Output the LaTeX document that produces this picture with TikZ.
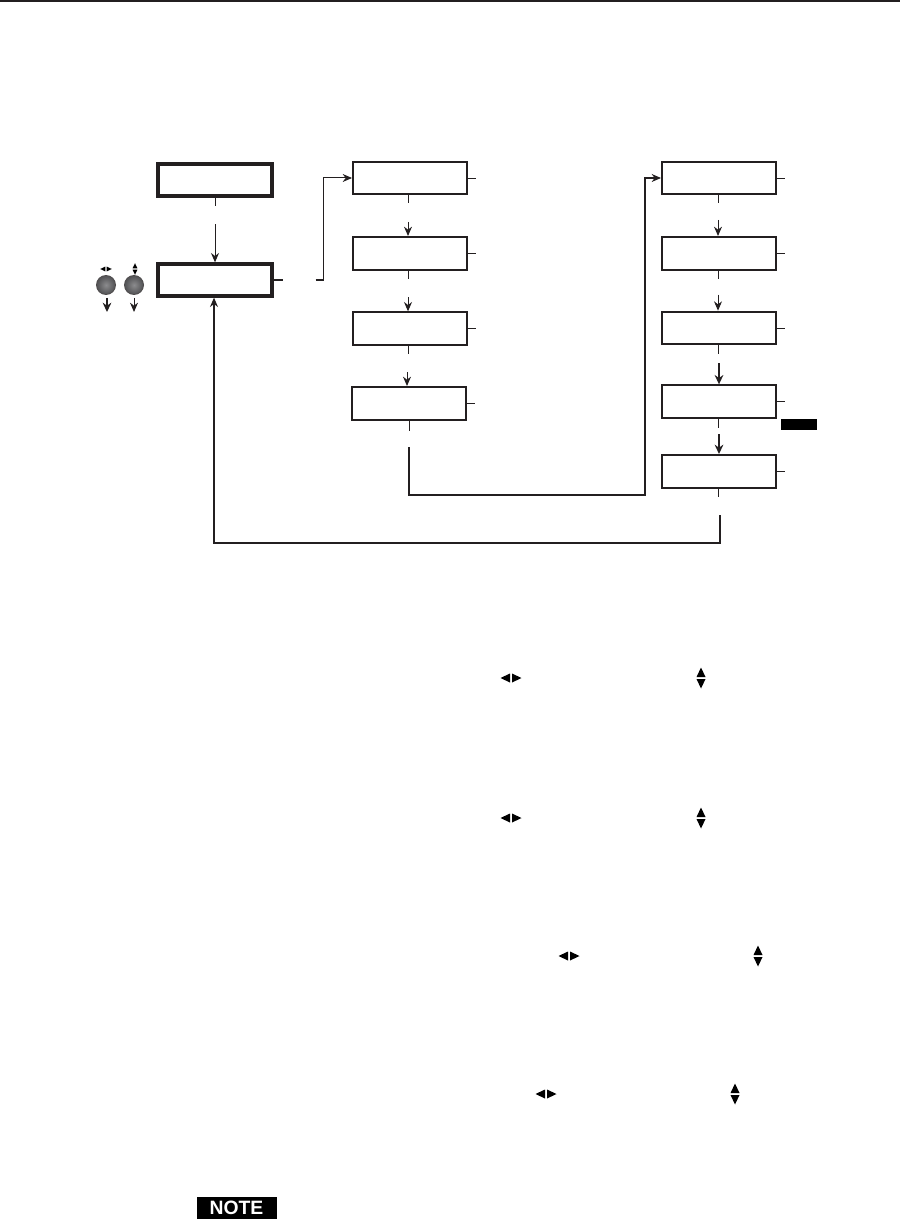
\documentclass[tikz,border=0pt]{standalone}
\usepackage{fontspec}
\setmainfont{Liberation Sans}
\usetikzlibrary{arrows.meta, positioning, calc}
\definecolor{inkDark}{HTML}{231F20}
\definecolor{knobGray}{HTML}{77777A}
\tikzset{
  x=0.75pt, y=-0.75pt,
  arrowK/.style={-{Stealth[length=7pt, width=6pt]}, inkDark, line width=0.75pt},
  arrowL/.style={-{Stealth[length=7pt, width=6pt]}, inkDark, line width=0.95pt},
  arrowT/.style={-{Stealth[length=7pt, width=6.5pt]}, inkDark, line width=1.2pt},
  stub/.style={inkDark, line width=0.7pt},
  stubT/.style={inkDark, line width=1.2pt},
  boxMain/.style={rectangle, draw=inkDark, line width=2.5pt, minimum width=85.5pt, minimum height=24pt},
  boxMenu/.style={rectangle, draw=inkDark, line width=1.5pt, minimum width=85.5pt, minimum height=24.5pt},
  knob/.style={circle, fill=inkDark!80, inner sep=0pt, minimum size=15pt},
  tagK/.style={rectangle, fill=black, inner sep=0pt},
  pics/lrmark/.style={code={
    \fill[black] (-1,-4.5) -- (-1,4.5) -- (-10.5,0) -- cycle;
    \fill[black] (1,-4.5) -- (1,4.5) -- (10.5,0) -- cycle;
  }},
  pics/udmark/.style={code={
    \fill[black] (-4.5,-1) -- (4.5,-1) -- (0,-10.5) -- cycle;
    \fill[black] (-4.5,1) -- (4.5,1) -- (0,10.5) -- cycle;
  }},
}
\begin{document}
\begin{tikzpicture}
  \useasboundingbox (0,0) rectangle (900,1219);
  \draw[inkDark, line width=1.2pt] (0,1) -- (900,1);

  % left column
  \node[boxMain] (top) at (215,180) {};
  \node[boxMain, below=48.5pt of top] (main) {};
  \coordinate (topIn) at ($(main.north)+(0,-38)$);
  \draw[stub] (top.south) -- ++(0,8);
  \draw[arrowK] (topIn) -- (main.north);

  % knobs
  \node[knob] (knobL) at (106,285) {};
  \node[knob] (knobR) at (134,285) {};
  \shade[inner color=knobGray!85, outer color=knobGray!70!black] (knobL) circle (6.8pt);
  \shade[inner color=knobGray!85, outer color=knobGray!70!black] (knobR) circle (6.8pt);
  \pic[scale=0.55] at (106,269) {lrmark};
  \pic[scale=0.55] at (135,269) {udmark};
  \coordinate (knobLout) at (107,312);
  \coordinate (knobRout) at (134,312);
  \draw[arrowT] (107,298) -- (knobLout);
  \draw[arrowK] (134,298) -- (knobRout);

  % middle column
  \node[boxMenu] (m1) at (410,178) {};
  \node[boxMenu, below=30.5pt of m1] (m2) {};
  \node[boxMenu, below=30.5pt of m2] (m3) {};
  \node[boxMenu, below=30pt of m3, xshift=-0.75pt] (m4) {};
  \foreach \a/\b in {m1/m2, m2/m3, m3/m4} {
    \coordinate (\a in) at ($(\b.north)+(-2,-14)$);
    \draw[stub] ($(\a.south)+(-2,0)$) -- ++(0,8);
    \draw[arrowK] (\a in) -- (\a in |- \b.north);
  }
  \foreach \a in {m1,m2,m3,m4} \draw[stub] (\a.east) -- ++(8,0);

  % right column
  \node[boxMenu] (r1) at (719,178) {};
  \node[boxMenu, below=30.5pt of r1] (r2) {};
  \node[boxMenu, below=30pt of r2] (r3) {};
  \node[boxMenu, below=29.25pt of r3] (r4) {};
  \node[boxMenu, below=26.25pt of r4] (r5) {};
  \foreach \a/\b in {r1/r2, r2/r3} {
    \coordinate (\a in) at ($(\b.north)+(-1,-16)$);
    \draw[stub] ($(\a.south)+(-1,0)$) -- ++(0,8);
    \draw[arrowK] (\a in) -- (\a in |- \b.north);
  }
  \foreach \a/\b/\c in {r3/r4/-21, r4/r5/-20} {
    \coordinate (\a in) at ($(\b.north)+(0,\c)$);
    \draw[stub] ($(\a.south)+(-1,0)$) -- ++(0,9);
    \draw[arrowT] (\a in) -- (\b.north);
  }
  \foreach \a in {r1,r2,r3,r4,r5} \draw[stub] (\a.east) -- ++(8,0);

  % long returns
  \coordinate (mainOut) at ($(main.east)+(42,0)$);
  \draw[stubT] (main.east) -- ++(9,0);
  \draw[stubT] (mainOut) -- ++(8,0);
  \draw[arrowK] ($(mainOut)+(8,0)$) |- (m1.west);
  \coordinate (m4out) at (409,447);
  \draw[stub] (m4.south) -- ++(0,10);
  \draw[arrowL] (m4out) |- (645,495) |- (r1.west);
  \coordinate (r5out) at (720,515);
  \draw[stub] ($(r5.south)+(-1,0)$) -- ++(0,8);
  \draw[arrowL] (r5out) |- (214,543) -- (main.south -| 214,0);

  \node[tagK, minimum width=27pt, minimum height=8pt] (tagR) at (799,424.5) {};
  \node[tagK, minimum width=60pt, minimum height=16.5pt, text=white,
        font=\bfseries\fontsize{14.5pt}{15pt}\selectfont] (note) at (236.5,1208) {NOTE};

  % inline marks
  \foreach \xa/\xb/\yy in {511/701/678, 511/701/818, 569/758/956, 546/735/1094} {
    \pic at (\xa,\yy) {lrmark};
    \pic at (\xb,\yy) {udmark};
  }
\end{tikzpicture}
\end{document}
